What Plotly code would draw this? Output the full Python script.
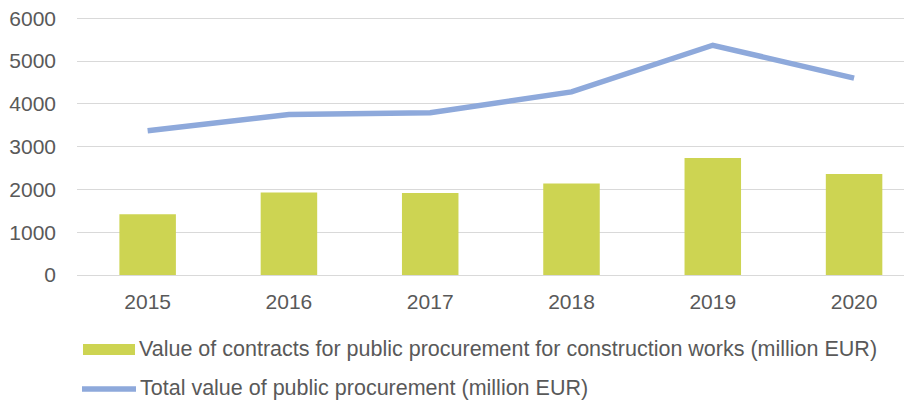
import plotly.graph_objects as go

years = ["2015", "2016", "2017", "2018", "2019", "2020"]
construction_values = [1417, 1931, 1915, 2141, 2732, 2358]
total_values = [3369, 3752, 3790, 4280, 5370, 4600]
y_ticks = [0, 1000, 2000, 3000, 4000, 5000, 6000]

bar_name = "Value of contracts for public procurement for construction works (million EUR)"
line_name = "Total value of public procurement (million EUR)"

BAR_COLOR = "#CDD452"
LINE_COLOR = "#8EA9DB"
TEXT_COLOR = "#595959"
FONT = "Liberation Sans, Arial, sans-serif"
FS = 21
FS_LEG = 21.5

# page body has an 8px margin; work in reference pixel coords and subtract it
OFF = 8
W, H = 912 - OFF, 401 - OFF
Y_TOP = 6100  # a little headroom so the 6000 gridline/label is kept
PX_PER_UNIT = (275 - 18) / 6000.0
PL = 77 - OFF
PB = 275 - OFF
PT = PB - Y_TOP * PX_PER_UNIT

fig = go.Figure()
fig.add_trace(go.Bar(x=years, y=construction_values, name=bar_name,
                     marker=dict(color=BAR_COLOR, line=dict(width=0)),
                     width=0.4, showlegend=False))
fig.add_trace(go.Scatter(x=years, y=total_values, name=line_name, mode="lines",
                         line=dict(color=LINE_COLOR, width=5.5),
                         showlegend=False))

fig.update_layout(
    width=W, height=H,
    margin=dict(l=PL, r=0, t=PT, b=H - PB, pad=0),
    paper_bgcolor="white", plot_bgcolor="white",
    font=dict(family=FONT, size=FS, color=TEXT_COLOR),
    xaxis=dict(type="category", range=[-0.5, 5.41], showgrid=False,
               showline=False, ticks="", ticklabelstandoff=12,
               tickfont=dict(size=FS, color=TEXT_COLOR)),
    yaxis=dict(range=[0, Y_TOP], tickvals=y_ticks, showgrid=True,
               gridcolor="#D9D9D9", gridwidth=1.3, zeroline=True,
               zerolinecolor="#D9D9D9", zerolinewidth=1.3, ticks="",
               ticklabeloverflow="allow",
               ticklabelstandoff=20, tickfont=dict(size=FS, color=TEXT_COLOR)),
    bargap=0.6,
)

# Manual legend (wide swatches as in reference); coordinates in reference px
def px_x(px):
    return (px - OFF - PL) / (W - PL)

def px_y(py):
    return (PB - (py - OFF)) / (PB - PT)

fig.add_shape(type="rect", xref="paper", yref="paper",
              x0=px_x(83), x1=px_x(135), y0=px_y(355), y1=px_y(344),
              fillcolor=BAR_COLOR, line=dict(width=0))
fig.add_annotation(xref="paper", yref="paper", x=px_x(137), y=px_y(349),
                   text=bar_name, showarrow=False, xanchor="left", yanchor="middle",
                   font=dict(size=FS_LEG, color=TEXT_COLOR, family=FONT))
fig.add_shape(type="line", xref="paper", yref="paper",
              x0=px_x(82), x1=px_x(136), y0=px_y(389), y1=px_y(389),
              line=dict(color=LINE_COLOR, width=5.5))
fig.add_annotation(xref="paper", yref="paper", x=px_x(138), y=px_y(388),
                   text=line_name, showarrow=False, xanchor="left", yanchor="middle",
                   font=dict(size=FS_LEG, color=TEXT_COLOR, family=FONT))

fig.write_html("out.html")
